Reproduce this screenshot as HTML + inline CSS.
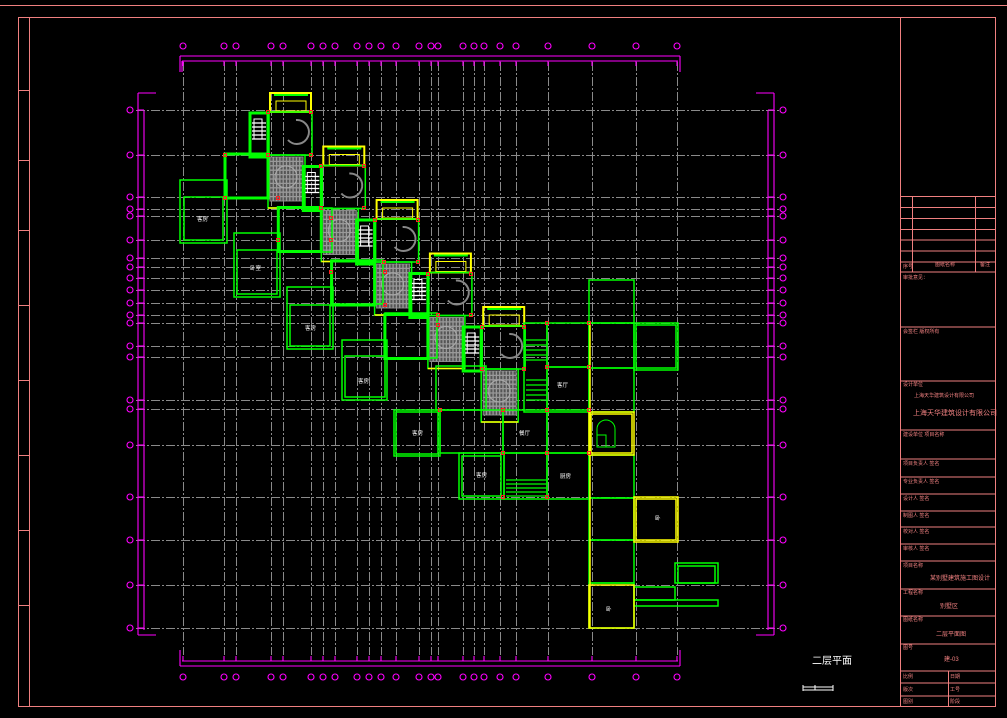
<!DOCTYPE html>
<html><head><meta charset="utf-8"><style>
html,body{margin:0;padding:0;background:#000;width:1007px;height:718px;overflow:hidden}
svg{display:block}
text{font-family:"Liberation Sans","Noto Sans CJK SC",sans-serif}
</style></head><body>
<svg id="s" width="1007" height="718" viewBox="0 0 1007 718" xmlns="http://www.w3.org/2000/svg">
<g fill="none" stroke="#f08080" stroke-width="1">
<line x1="0" y1="5.5" x2="1007" y2="5.5"/>
<rect x="18.5" y="17.5" width="977" height="689"/>
<line x1="29.5" y1="17" x2="29.5" y2="706"/>
<line x1="18" y1="90.5" x2="29" y2="90.5"/><line x1="18" y1="160.5" x2="29" y2="160.5"/>
<line x1="18" y1="230.5" x2="29" y2="230.5"/><line x1="18" y1="305.5" x2="29" y2="305.5"/>
<line x1="18" y1="380.5" x2="29" y2="380.5"/><line x1="18" y1="455.5" x2="29" y2="455.5"/>
<line x1="18" y1="530.5" x2="29" y2="530.5"/><line x1="18" y1="605.5" x2="29" y2="605.5"/>
<line x1="900.5" y1="17" x2="900.5" y2="706"/>
</g>
<g id="tb" fill="none" stroke="#f08080" stroke-width="1"></g>
<g id="grid" stroke="#8a8a8a" stroke-width="1" stroke-dasharray="9 2 2 2" fill="none"></g>
<g id="dim" stroke="#ff00ff" stroke-width="1.1" fill="none"></g>
<g id="bld" fill="none" stroke-width="1.3"></g>
<g fill="#fff" font-size="5.5">
<text x="197" y="221">客房</text><text x="250" y="270">卧室</text><text x="305" y="330">客房</text>
<text x="358" y="383">客房</text><text x="412" y="435">客房</text><text x="476" y="477">客房</text>
<text x="519" y="435">餐厅</text><text x="560" y="478">厨房</text><text x="557" y="387">客厅</text>
<text x="655" y="520">卧</text><text x="606" y="611">卧</text>
</g>
<g fill="#f08080" font-size="5">
<text x="903" y="268">序号</text><text x="935" y="266">图纸名称</text><text x="980" y="266">备注</text>
<text x="903" y="279">审批意见：</text><text x="903" y="333">会签栏 版权所有</text>
<text x="903" y="386">设计单位</text>
<text x="914" y="397">上海天华建筑设计有限公司</text>
<text x="913" y="415" font-size="7">上海天华建筑设计有限公司</text>
<text x="903" y="436">建设单位 项目名称</text>
<text x="903" y="465">项目负责人 签名</text><text x="903" y="483">专业负责人 签名</text>
<text x="903" y="500">设计人 签名</text><text x="903" y="517">制图人 签名</text>
<text x="903" y="533">校对人 签名</text><text x="903" y="550">审核人 签名</text>
<text x="903" y="567">项目名称</text><text x="930" y="580" font-size="6">某别墅建筑施工图设计</text>
<text x="903" y="594">工程名称</text><text x="940" y="608" font-size="6">别墅区</text>
<text x="903" y="621">图纸名称</text><text x="936" y="636" font-size="6">二层平面图</text>
<text x="903" y="649">图号</text><text x="944" y="661" font-size="6">建-03</text>
<text x="903" y="678">比例</text><text x="950" y="678">日期</text>
<text x="903" y="691">版次</text><text x="950" y="691">工号</text>
<text x="903" y="703">图别</text><text x="950" y="703">阶段</text>
</g>
<text x="812" y="664" fill="#fff" font-size="10">二层平面</text>
<g stroke="#fff" stroke-width="1" fill="none"><line x1="803" y1="687" x2="833" y2="687"/><line x1="803" y1="690" x2="833" y2="690"/><line x1="803" y1="685" x2="803" y2="691"/><line x1="833" y1="685" x2="833" y2="691"/><line x1="815" y1="685" x2="815" y2="690"/></g>
<script>
var NS="http://www.w3.org/2000/svg";
function el(p,t,a){var e=document.createElementNS(NS,t);for(var k in a)e.setAttribute(k,a[k]);document.getElementById(p).appendChild(e);return e;}
function L(p,x1,y1,x2,y2,c){return el(p,'line',{x1:x1,y1:y1,x2:x2,y2:y2,stroke:c||null});}
function R(p,x,y,w,h,c,sw){return el(p,'rect',{x:x,y:y,width:w,height:h,stroke:c,'stroke-width':sw||1.3,fill:'none'});}
var ys=[196.5,207.5,218.5,229.5,240,251,262,272,327,381,430,459,477,494,511,527,544,561,589,616,644,671,683,696];
ys.forEach(function(y){L('tb',900,y,996,y);});
L('tb',912.5,196,912.5,272);L('tb',975.5,196,975.5,272);L('tb',948.5,671,948.5,707);
var gx=[183,224,236,271,283,311,323,335,357,369,381,396,419,431,438,463,474,484,500,516,548,592,636,677];
var gy=[110,155,197,209,216,240,258,267,278,290,303,315,323,346,357,400,409,445,497,540,585,628];
gx.forEach(function(x){L('grid',x+.5,62,x+.5,655);});
gy.forEach(function(y){L('grid',136,y+.5,780,y+.5);});
L('dim',180,56,680,56);L('dim',182,61,678,61);L('dim',180,56,180,72);L('dim',182,61,182,72);L('dim',680,56,680,72);
L('dim',180,666,680,666);L('dim',182,661,678,661);L('dim',180,650,180,666);L('dim',680,650,680,666);
L('dim',138,93,138,635);L('dim',144,111,144,630);L('dim',138,93,156,93);L('dim',138,635,156,635);
L('dim',774,93,774,635);L('dim',768,111,768,630);L('dim',756,93,774,93);L('dim',756,635,774,635);
gx.forEach(function(x){el('dim','circle',{cx:x,cy:46,r:3});el('dim','circle',{cx:x,cy:677,r:3});L('dim',x,61,x,66);L('dim',x,656,x,661);});
gy.forEach(function(y){el('dim','circle',{cx:130,cy:y,r:3});el('dim','circle',{cx:783,cy:y,r:3});L('dim',138,y,144,y);L('dim',768,y,774,y);});
var G='#00ff00',Y='#ffff00',GR='#888';
for(var i=0;i<5;i++){
 var ox=270+i*53.3, oy=93+i*53.5;
 R('bld',ox,oy,41,19,Y,2);R('bld',ox+6,oy+8,30,10,Y,1);
 L('bld',ox+4,oy+2,ox+38,oy+2,G).setAttribute('stroke-width',2);
 R('bld',ox-1,oy+19,43,43,G,1.5);
 el('bld','path',{d:'M'+(ox+26)+' '+(oy+27)+' a12 12 0 1 1 -8 20',stroke:GR,'stroke-width':2});
 R('bld',ox-20,oy+20,18,44,G,3);R('bld',ox-16,oy+26,8,20,'#fff',1);
 for(var k=0;k<5;k++)L('bld',ox-18,oy+30+k*4,ox-4,oy+30+k*4,'#fff');
 var ax=ox-2,ay=oy+62;
 R('bld',ax,ay,37,53,G,1.5);
 el('bld','rect',{x:ax+2,y:ay+2,width:33,height:44,fill:'#555',stroke:GR,'stroke-width':1});
 for(var k=1;k<10;k++){L('bld',ax+2+k*3.3,ay+2,ax+2+k*3.3,ay+46,'#999');L('bld',ax+2,ay+2+k*4.4,ax+35,ay+2+k*4.4,'#999');}
 el('bld','circle',{cx:ax+18,cy:ay+22,r:11,stroke:'#aaa',fill:'none','stroke-width':1});
 L('bld',ax,ay+53,ax+37,ay+53,Y).setAttribute('stroke-width',1.5);
 if(i<4){R('bld',ox-45,oy+61,43,44,G,3);}
}
[[180,180,47,63],[184,197,39,43],[234,233,46,64],[237,250,40,44],[278,208,54,44],[287,287,46,62],[290,305,40,41],
 [331,260,52,44],[342,340,45,60],[345,356,40,41],[385,313,52,45],[394,410,46,46],[396,412,42,42],[436,366,50,44],
 [459,453,45,46],[462,456,39,40],[504,453,43,46],[547,453,42,46],[503,410,44,43],[547,410,42,43],
 [440,410,63,43],[524,323,23,89],[547,323,42,44],[547,367,42,45],[634,323,44,47],[636,325,40,43],
 [589,280,45,43],[589,323,45,45],[589,368,45,44],[589,455,45,43],[589,498,45,42],[589,540,45,43],[589,583,45,45],
 [675,563,43,20],[678,566,37,17],[634,587,41,13],[634,600,84,6]].forEach(function(r){R('bld',r[0],r[1],r[2],r[3],G,1.5);});
[[589,412,45,43],[591,414,41,39],[634,497,44,45],[636,499,40,41],[589,585,45,43]].forEach(function(r){R('bld',r[0],r[1],r[2],r[3],Y,1.5);});
L('bld',590,323,590,628,Y).setAttribute('stroke-width',1.5);
for(var k=0;k<5;k++){L('bld',526,340+k*5,546,340+k*5,G);L('bld',526,380+k*5,546,380+k*5,G);L('bld',506,480+k*4,546,480+k*4,G);}
el('bld','path',{d:'M597 435 v-6 a9 9 0 0 1 18 0 v18 h-18 z M597 435 h9 v12',stroke:G,'stroke-width':1});
var rc=[[268,112],[311,112],[225,155],[268,155],[311,155],[321,166],[364,166],[278,198],[225,198],[321,208],[364,208],[331,218],[278,240],[331,240],[375,220],[418,220],[384,262],[418,262],[385,272],[331,272],[385,305],[428,274],[471,274],[438,315],[471,315],[438,325],[482,327],[524,327],[482,369],[524,369],[547,323],[589,323],[547,367],[589,367],[503,410],[547,410],[589,410],[440,410],[503,453],[547,453],[589,453],[503,497],[547,497]];
rc.forEach(function(p){el('bld','rect',{x:p[0]-1.5,y:p[1]-1.5,width:3,height:3,stroke:'#ff2020','stroke-width':1,fill:'none'});});
</script>
</svg>
</body></html>
